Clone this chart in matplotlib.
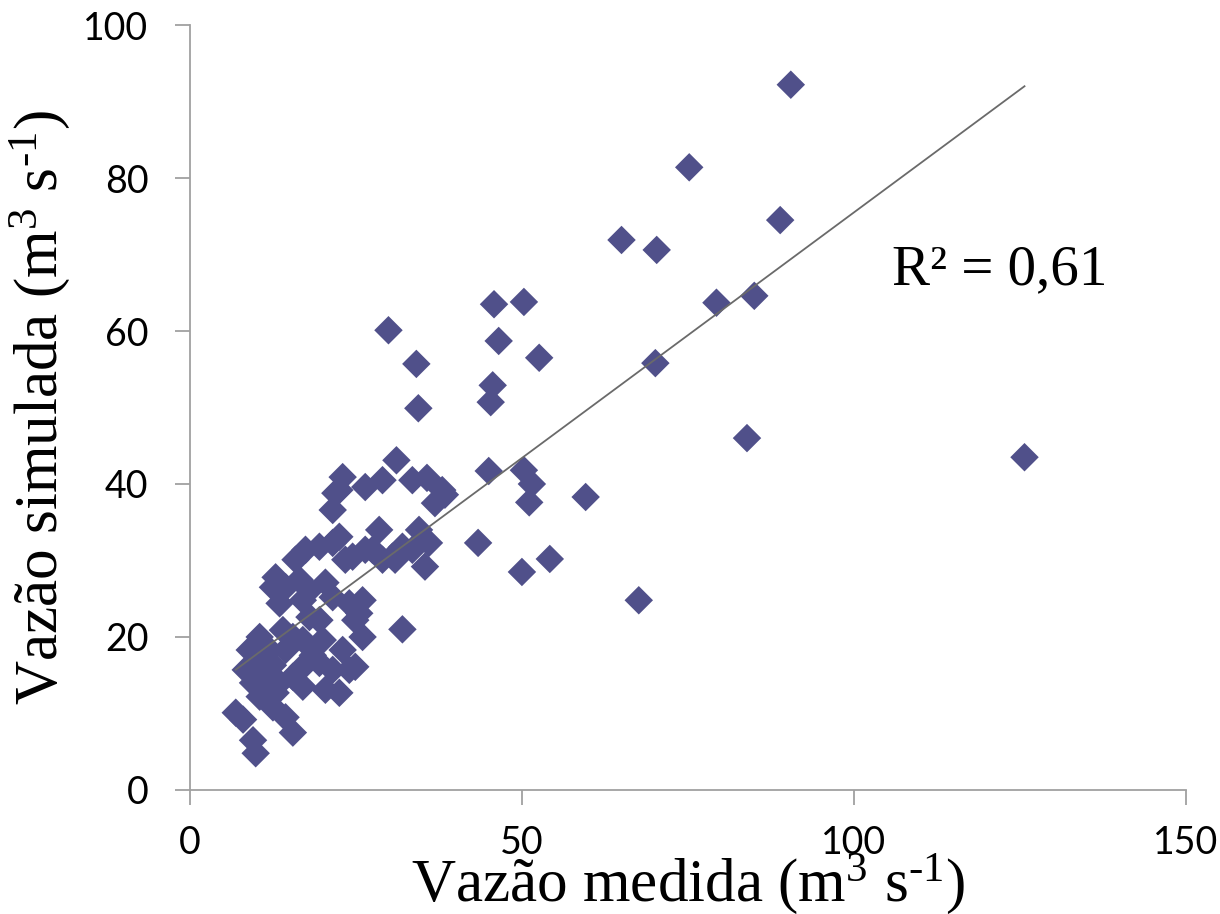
import numpy as np
import matplotlib
matplotlib.use("Agg")
import matplotlib.pyplot as plt

plt.rcParams['mathtext.fontset'] = 'custom'
plt.rcParams['mathtext.rm'] = 'Liberation Serif'
plt.rcParams['mathtext.default'] = 'regular'

# Measured flow (x) and simulated flow (y), m3 s-1
medida = [
    90.5, 75.2, 88.9, 65.0, 70.3, 85.0, 79.3, 50.3, 45.8, 29.9,
    46.5, 52.6, 34.1, 70.1, 45.6, 45.3, 34.4, 83.9, 125.7, 31.1,
    45.0, 50.3, 51.5, 51.1, 59.6, 43.4, 50.0, 54.2, 67.6, 32.0,
    23.0, 22.5, 21.5, 26.4, 29.0, 35.7, 38.0, 36.9, 38.4, 33.5,
    28.5, 17.4, 19.5, 22.5, 24.5, 27.5, 30.5, 33.5, 35.4, 36.0,
    34.5, 32.0, 15.9, 12.9, 12.5, 13.5, 16.5, 18.0, 20.4, 21.5,
    24.0, 26.0, 24.9, 26.0, 10.5, 9.0, 12.0, 14.4, 15.5, 8.4,
    9.5, 11.4, 13.5, 15.5, 17.0, 19.5, 21.5, 24.0, 24.9, 20.4,
    22.5, 10.5, 12.5, 14.4, 15.5, 6.9, 8.0, 9.5, 9.9, 12.9,
    17.0, 18.0, 19.5, 17.0, 21.5, 23.4, 29.0, 30.9, 14.4, 25.5,
    26.4, 21.9, 14.0, 17.0, 20.0, 18.5, 23.0, 12.5, 11.0,
]
simulada = [
    92.2, 81.4, 74.5, 71.9, 70.6, 64.6, 63.7, 63.8, 63.5, 60.1,
    58.7, 56.5, 55.7, 55.8, 52.9, 50.7, 49.9, 46.0, 43.5, 43.1,
    41.7, 41.8, 40.0, 37.6, 38.3, 32.3, 28.5, 30.2, 24.8, 21.0,
    40.9, 39.2, 36.6, 39.6, 40.5, 40.8, 39.2, 37.5, 38.6, 40.5,
    34.0, 31.4, 31.8, 33.1, 30.5, 31.4, 30.5, 31.4, 29.2, 32.3,
    34.0, 31.8, 30.1, 27.8, 26.5, 24.4, 27.5, 26.1, 27.1, 25.2,
    24.4, 24.8, 22.2, 20.0, 20.0, 18.3, 18.3, 18.3, 20.0, 15.7,
    14.0, 14.8, 14.0, 14.8, 16.1, 16.6, 15.7, 15.7, 16.1, 13.1,
    12.7, 12.2, 10.8, 9.5, 7.5, 10.1, 9.2, 6.5, 4.8, 12.7,
    13.5, 22.6, 22.2, 24.8, 32.3, 30.1, 30.1, 30.1, 26.5, 23.1,
    31.4, 38.8, 20.9, 19.6, 19.6, 17.6, 18.3, 16.3, 17.0,
]
# Linear trendline as shown in the chart
trend_slope = 0.642
trend_intercept = 11.3
r2_text = "R² = 0,61"
xticks = [0, 50, 100, 150]
yticks = [0, 20, 40, 60, 80, 100]

x = np.array(medida)
y = np.array(simulada)

fig = plt.figure(figsize=(12.2, 9.14), dpi=100)
ax = fig.add_axes([0.1557, 0.1357, 0.8163, 0.8369])

ax.scatter(x, y, marker='D', s=14.5**2, color='#50508A', edgecolors='none', zorder=2)

xl = np.array([x.min(), x.max()])
ax.plot(xl, trend_intercept + trend_slope * xl, color='#6a6a6a', lw=1.3, zorder=3)

ax.set_xlim(0, 150)
ax.set_ylim(0, 100)
ax.set_xticks(xticks)
ax.set_yticks(yticks)

for s in ['top', 'right']:
    ax.spines[s].set_visible(False)
for s in ['left', 'bottom']:
    ax.spines[s].set_color('#a0a0a0')
    ax.spines[s].set_linewidth(1.3)

ax.tick_params(axis='both', direction='out', length=11, width=1.3, color='#a0a0a0',
               labelsize=27, labelcolor='black')
ax.tick_params(axis='y', pad=19)
ax.tick_params(axis='x', pad=14)
for lab in ax.get_xticklabels() + ax.get_yticklabels():
    lab.set_family('Lato')

ax.set_xlabel(r'Vazão medida (m$^{3}$ s$^{\text{-}1}$)', fontsize=44,
              family='Liberation Serif', labelpad=-6)
ax.set_ylabel(r'Vazão simulada (m$^{3}$ s$^{\text{-}1}$)', fontsize=44,
              family='Liberation Serif', labelpad=8)

ax.text(0.705, 0.68, r2_text, transform=ax.transAxes, fontsize=41,
        family='Liberation Serif', ha='left', va='center')

fig.savefig('out.png', dpi=100)
